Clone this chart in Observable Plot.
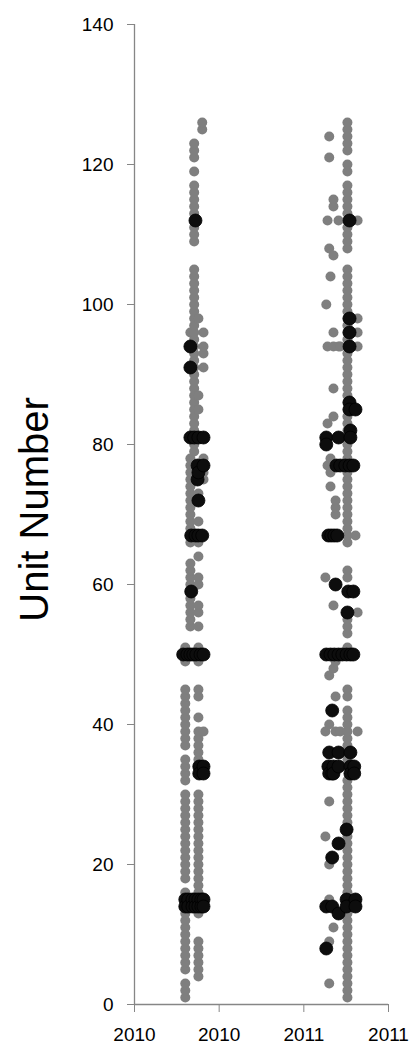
<!DOCTYPE html>
<html><head><meta charset="utf-8">
<script src="https://cdn.jsdelivr.net/npm/d3@7"></script>
<script src="https://cdn.jsdelivr.net/npm/@observablehq/plot@0.6"></script>
<style>body{margin:0;background:#fff}</style>
</head><body><div id="chart"></div>
<script>
// Axis ticks
const xTickDates = ["2010-01-01", "2010-07-20", "2011-02-05", "2011-08-24"];
const yTicks = [0, 20, 40, 60, 80, 100, 120, 140];
const yTitle = "Unit Number";

// Gray points: one list of unit numbers per date
const grayDates = [
  "2010-05-01", "2010-05-13", "2010-05-22", "2010-06-01", "2010-06-10", "2010-06-13",
  "2011-03-28", "2011-03-30", "2011-04-02", "2011-04-06", "2011-04-09", "2011-04-16",
  "2011-04-21", "2011-04-28", "2011-05-02", "2011-05-19", "2011-06-07", "2011-06-12"
];
const grayUnits = [
  [1,2,3,5,6,7,8,9,10,11,12,13,14,15,16,18,19,20,21,22,23,24,25,26,27,28,29,30,32,33,34,35,37,38,39,40,41,42,43,44,45,49,51],
  [54,55,56,57,58,59,60,61,62,63,66,68,69,70,71,72,73,74,75,76,77,78,96],
  [79,80,82,83,84,85,86,87,88,89,90,91,92,93,94,95,96,97,98,99,100,101,102,103,104,105,109,110,111,112,113,114,115,116,117,119,121,122,123],
  [4,5,6,7,8,9,13,14,15,16,17,18,19,20,21,22,23,24,25,26,27,28,29,30,33,34,35,36,37,38,39,41,44,45,49,51,54,56,57,60,61,64,66,69,73,85,87,98],
  [125,126],
  [39,75,76,77,78,91,93,94,96],
  [24,39,61],
  [100],
  [77,83,94,112],
  [3,9,15,20,29,36,40,47,108,121,124],
  [74,76,78,104],
  [11,48,57,84,88,94,96,107,114,115],
  [39,44,49,70,71,72],
  [94,112],
  [39,94],
  [1,2,3,4,5,6,7,8,9,10,11,12,13,14,15,16,17,18,19,20,21,22,23,24,25,26,27,28,29,30,31,32,35,37,38,39,40,41,42,44,45,51,53,54,55,61,62,66,67,68,69,70,71,72,73,74,75,76,77,78,79,80,81,82,83,84,85,86,87,88,89,90,91,92,93,94,95,96,97,98,99,100,101,102,103,104,105,108,109,110,111,112,113,114,115,116,117,119,120,122,123,124,125,126],
  [67],
  [39,56,94,96,98,112]
];

// Black points: one list of unit numbers per date
const blackDates = [
  "2010-04-26", "2010-05-01", "2010-05-06", "2010-05-08", "2010-05-13", "2010-05-15",
  "2010-05-18", "2010-05-20", "2010-05-22", "2010-05-25", "2010-05-27", "2010-05-30",
  "2010-06-01", "2010-06-03", "2010-06-06", "2010-06-08", "2010-06-10", "2010-06-13",
  "2011-03-30", "2011-04-04", "2011-04-06", "2011-04-09", "2011-04-11", "2011-04-13",
  "2011-04-16", "2011-04-18", "2011-04-21", "2011-04-23", "2011-04-25", "2011-04-28",
  "2011-05-02", "2011-05-07", "2011-05-14", "2011-05-17", "2011-05-19", "2011-05-21",
  "2011-05-24", "2011-05-26", "2011-06-02", "2011-06-04", "2011-06-07"
];
const blackUnits = [
  [50], [15,14], [50], [15,14], [94,91,81,50], [67,59],
  [15,14], [50], [81], [112,67,15,14], [50], [77,75],
  [81,76,72,67,15,14], [34,33], [50], [15,14], [67], [81,77,50,34,33,15,14],
  [81,80,50,14,8], [67,34], [36,33], [50], [67], [42,33,21,14],
  [34,33], [67,50], [60], [77], [67], [81,50,36,34,23,13],
  [77], [50], [77], [50,25,15,14], [56], [59],
  [112,98,96,94,86,85,77], [82,81,50,36,34,33], [77,59,50], [34,33], [85,15,14]
];

const parse = d3.utcParse("%Y-%m-%d");
const toPoints = (dates, units) =>
  dates.flatMap((d, i) => units[i].map(u => ({date: parse(d), unit: u})));
const gray = toPoints(grayDates, grayUnits);
const black = toPoints(blackDates, blackUnits);
const xTicks = xTickDates.map(parse);
const axisColor = "#868686";

const chart = Plot.plot({
  width: 415,
  height: 1047,
  marginLeft: 134,
  marginRight: 27,
  marginTop: 24,
  marginBottom: 43,
  style: {fontFamily: "'Liberation Sans', Arial, sans-serif", fontSize: "19px", color: "#000", background: "#fff"},
  x: {type: "utc", domain: [xTicks[0], xTicks[xTicks.length - 1]]},
  y: {domain: [0, 140]},
  marks: [
    Plot.ruleX([xTicks[0]], {stroke: axisColor, strokeWidth: 1.3}),
    Plot.ruleY([0], {stroke: axisColor, strokeWidth: 1.3}),
    Plot.axisY({ticks: yTicks, tickSize: 7, tickPadding: 14, label: null, stroke: axisColor, fill: "#000", tickFormat: d => String(d)}),
    Plot.axisX({ticks: xTicks, tickSize: 8, tickPadding: 15, label: null, stroke: axisColor, fill: "#000", tickFormat: d3.utcFormat("%Y")}),
    Plot.dot(gray, {x: "date", y: "unit", r: 5, fill: "#7f7f7f"}),
    Plot.dot(black, {x: "date", y: "unit", r: 6.5, fill: "#0d0d0d", stroke: "#000", strokeWidth: 0.8}),
    Plot.text([yTitle], {frameAnchor: "left", textAnchor: "middle", dx: -99, dy: -5, rotate: -90, fontSize: 40, letterSpacing: "1px", fill: "#000"})
  ]
});
document.getElementById("chart").appendChild(chart);
</script>
</body></html>
